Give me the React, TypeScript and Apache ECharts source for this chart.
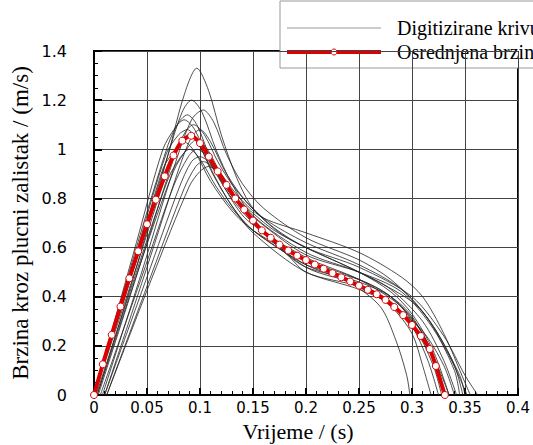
import React, { useEffect, useRef } from "react";
import * as echarts from "echarts";

// Averaged curve (red, with markers)
const avgTime = [0, 0.0083, 0.0167, 0.025, 0.0333, 0.0417, 0.05, 0.0583, 0.0667, 0.075, 0.0833, 0.0917, 0.1, 0.1083, 0.1167, 0.125, 0.1333, 0.1417, 0.15, 0.1583, 0.1667, 0.175, 0.1833, 0.1917, 0.2, 0.2083, 0.2167, 0.225, 0.2333, 0.2417, 0.25, 0.2583, 0.2667, 0.275, 0.2833, 0.2917, 0.3, 0.3083, 0.3167, 0.3225, 0.331];
const avgSpeed = [0, 0.125, 0.245, 0.36, 0.475, 0.585, 0.695, 0.795, 0.89, 0.975, 1.035, 1.055, 1.025, 0.97, 0.91, 0.855, 0.8, 0.755, 0.71, 0.67, 0.64, 0.612, 0.588, 0.567, 0.549, 0.531, 0.514, 0.496, 0.479, 0.462, 0.445, 0.428, 0.41, 0.387, 0.358, 0.325, 0.285, 0.24, 0.187, 0.118, 0];

const curve1 = [[0.003, 0], [0.04, 0.52], [0.07, 0.98], [0.085, 1.22], [0.097, 1.33], [0.108, 1.24], [0.12, 1.06], [0.135, 0.88], [0.15, 0.76], [0.175, 0.66], [0.2, 0.6], [0.25, 0.5], [0.28, 0.42], [0.3, 0.33], [0.32, 0.18], [0.335, 0]];
const curve2 = [[0, 0], [0.04, 0.56], [0.07, 0.98], [0.083, 1.15], [0.092, 1.2], [0.102, 1.15], [0.115, 1.0], [0.13, 0.86], [0.15, 0.73], [0.2, 0.58], [0.25, 0.5], [0.28, 0.43], [0.31, 0.3], [0.33, 0.14], [0.342, 0]];
const curve3 = [[0.008, 0], [0.045, 0.5], [0.075, 0.92], [0.092, 1.12], [0.103, 1.16], [0.113, 1.11], [0.125, 0.98], [0.14, 0.86], [0.16, 0.76], [0.2, 0.64], [0.25, 0.55], [0.28, 0.47], [0.31, 0.34], [0.335, 0.16], [0.352, 0]];
const curve4 = [[0, 0], [0.04, 0.6], [0.07, 1.02], [0.08, 1.11], [0.088, 1.14], [0.097, 1.1], [0.11, 0.96], [0.125, 0.83], [0.145, 0.71], [0.2, 0.56], [0.25, 0.47], [0.29, 0.36], [0.31, 0.25], [0.325, 0.1], [0.33, 0]];
const curve5 = [[0, 0], [0.04, 0.62], [0.065, 1.0], [0.077, 1.09], [0.085, 1.12], [0.095, 1.08], [0.11, 0.94], [0.13, 0.8], [0.15, 0.7], [0.2, 0.52], [0.25, 0.45], [0.28, 0.38], [0.3, 0.28], [0.315, 0.14], [0.325, 0]];
const curve6 = [[0.004, 0], [0.045, 0.55], [0.075, 0.96], [0.086, 1.07], [0.094, 1.1], [0.104, 1.06], [0.118, 0.94], [0.135, 0.83], [0.16, 0.72], [0.2, 0.62], [0.25, 0.53], [0.29, 0.43], [0.32, 0.28], [0.34, 0.12], [0.348, 0]];
const curve7 = [[0.01, 0], [0.05, 0.52], [0.08, 0.92], [0.092, 1.05], [0.1, 1.08], [0.11, 1.03], [0.125, 0.9], [0.145, 0.78], [0.17, 0.68], [0.2, 0.6], [0.25, 0.52], [0.3, 0.4], [0.33, 0.24], [0.35, 0.08], [0.362, 0]];
const curve8 = [[0, 0], [0.04, 0.52], [0.07, 0.92], [0.082, 1.03], [0.09, 1.06], [0.1, 1.01], [0.115, 0.88], [0.13, 0.77], [0.15, 0.66], [0.2, 0.5], [0.25, 0.44], [0.28, 0.36], [0.3, 0.25], [0.31, 0.12], [0.318, 0]];
const curve9 = [[0, 0], [0.04, 0.55], [0.065, 0.92], [0.077, 1.0], [0.085, 1.03], [0.095, 0.99], [0.11, 0.87], [0.13, 0.75], [0.15, 0.67], [0.2, 0.55], [0.25, 0.47], [0.28, 0.4], [0.3, 0.3], [0.32, 0.12], [0.328, 0]];
const curve10 = [[0.006, 0], [0.045, 0.48], [0.075, 0.85], [0.089, 0.97], [0.097, 1.0], [0.107, 0.97], [0.12, 0.88], [0.14, 0.77], [0.16, 0.69], [0.2, 0.57], [0.25, 0.5], [0.29, 0.42], [0.32, 0.27], [0.34, 0.1], [0.345, 0]];
const curve11 = [[0.01, 0], [0.05, 0.48], [0.08, 0.84], [0.092, 0.95], [0.1, 0.97], [0.11, 0.94], [0.125, 0.84], [0.145, 0.73], [0.17, 0.62], [0.2, 0.53], [0.25, 0.47], [0.28, 0.4], [0.31, 0.25], [0.325, 0.1], [0.33, 0]];
const curve12 = [[0.012, 0], [0.055, 0.5], [0.085, 0.84], [0.096, 0.93], [0.103, 0.95], [0.113, 0.92], [0.13, 0.82], [0.15, 0.74], [0.17, 0.67], [0.2, 0.6], [0.25, 0.5], [0.3, 0.38], [0.32, 0.28], [0.345, 0.08], [0.35, 0]];
const curve13 = [[0.012, 0], [0.055, 0.48], [0.09, 0.85], [0.1, 0.91], [0.108, 0.93], [0.118, 0.9], [0.135, 0.8], [0.155, 0.69], [0.18, 0.58], [0.2, 0.52], [0.25, 0.46], [0.28, 0.4], [0.3, 0.32], [0.32, 0.16], [0.335, 0]];
const curve14 = [[0.003, 0], [0.045, 0.55], [0.075, 0.91], [0.089, 1.01], [0.097, 1.04], [0.107, 1.0], [0.12, 0.9], [0.14, 0.79], [0.16, 0.72], [0.2, 0.66], [0.25, 0.58], [0.29, 0.48], [0.31, 0.4], [0.33, 0.25], [0.35, 0.05], [0.355, 0]];
const curve15 = [[0, 0], [0.04, 0.58], [0.068, 0.98], [0.08, 1.06], [0.088, 1.08], [0.098, 1.03], [0.112, 0.9], [0.13, 0.77], [0.15, 0.67], [0.2, 0.53], [0.24, 0.46], [0.27, 0.36], [0.285, 0.22], [0.295, 0.08], [0.298, 0]];
const curve16 = [[0.002, 0], [0.04, 0.5], [0.07, 0.88], [0.082, 0.97], [0.09, 1.0], [0.1, 0.96], [0.115, 0.85], [0.13, 0.76], [0.15, 0.67], [0.18, 0.58], [0.2, 0.5], [0.25, 0.43], [0.28, 0.37], [0.31, 0.26], [0.33, 0.12], [0.34, 0]];

const digitizedCurves = [curve1, curve2, curve3, curve4, curve5, curve6, curve7, curve8, curve9, curve10, curve11, curve12, curve13, curve14, curve15, curve16];

const legendNames = ["Digitizirane krivulje", "Osrednjena brzina"];
const xAxisName = "Vrijeme / (s)";
const yAxisName = "Brzina kroz plucni zalistak / (m/s)";

const SERIF = '"Liberation Serif", "Times New Roman", serif';
const SANS = "DejaVu Sans";
const RED = "#dd0000";

export default function App() {
  const ref = useRef<HTMLDivElement>(null);
  useEffect(() => {
    if (!ref.current) return;
    const chart = echarts.init(ref.current, null, { renderer: "svg" });
    const thinSeries = digitizedCurves.map((c) => ({
      name: legendNames[0],
      type: "line",
      data: c,
      smooth: 0.3,
      symbol: "none",
      lineStyle: { color: "#222", width: 0.8 },
      z: 2,
    }));
    const avgData = avgTime.map((t, i) => [t, avgSpeed[i]]);
    chart.setOption({
      animation: false,
      backgroundColor: "#fff",
      grid: {
        left: 94,
        right: 15,
        top: 51,
        bottom: 50,
        show: true,
        borderColor: "#000",
        borderWidth: 2,
        containLabel: false,
      },
      graphic: [
        {
          type: "text",
          x: 298,
          y: 431,
          style: { text: xAxisName, font: `22px ${SERIF}`, fill: "#000", align: "center", verticalAlign: "middle" },
        },
        {
          type: "text",
          x: 20,
          y: 223,
          rotation: Math.PI / 2,
          style: { text: yAxisName, font: `23px ${SERIF}`, fill: "#000", align: "center", verticalAlign: "middle" },
        },
        {
          type: "group",
          z: 100,
          children: [
            { type: "rect", shape: { x: 280, y: 1, width: 270, height: 67 }, style: { fill: "#fff", stroke: "#999", lineWidth: 1 } },
            { type: "line", shape: { x1: 287, y1: 28, x2: 381, y2: 28 }, style: { stroke: "#999", lineWidth: 1 } },
            { type: "text", x: 397, y: 28, style: { text: legendNames[0], font: `20px ${SERIF}`, fill: "#000", verticalAlign: "middle", align: "left" } },
            { type: "line", shape: { x1: 287, y1: 52, x2: 381, y2: 52 }, style: { stroke: RED, lineWidth: 4 } },
            { type: "circle", shape: { cx: 334, cy: 52, r: 3 }, style: { fill: "#fff", stroke: RED, lineWidth: 1 } },
            { type: "text", x: 397, y: 52, style: { text: legendNames[1], font: `20px ${SERIF}`, fill: "#000", verticalAlign: "middle", align: "left" } },
          ],
        },
      ],
      xAxis: {
        type: "value",
        min: 0,
        max: 0.4,
        interval: 0.05,
        axisLine: { show: true, lineStyle: { color: "#000", width: 2 } },
        axisTick: { show: true, inside: true, length: 7, lineStyle: { color: "#000", width: 2 } },
        minorTick: { show: true, splitNumber: 5, length: 4, lineStyle: { color: "#000", width: 1 } },
        axisLabel: { fontFamily: SANS, fontSize: 15, color: "#000", margin: 5, lineHeight: 16 },
        splitLine: { show: true, lineStyle: { color: "#444", width: 1 } },
      },
      yAxis: {
        type: "value",
        min: 0,
        max: 1.4,
        interval: 0.2,
        axisLine: { show: true, lineStyle: { color: "#000", width: 2 } },
        axisTick: { show: true, inside: true, length: 8, lineStyle: { color: "#000", width: 2 } },
        minorTick: { show: true, splitNumber: 4, length: 4, lineStyle: { color: "#000", width: 1 } },
        axisLabel: { fontFamily: SANS, fontSize: 16, color: "#000", margin: 27 },
        splitLine: { show: true, lineStyle: { color: "#444", width: 1 } },
      },
      series: [
        ...thinSeries,
        {
          name: legendNames[1],
          type: "line",
          data: avgData,
          smooth: 0.3,
          symbol: "circle",
          symbolSize: 7,
          showAllSymbol: true,
          itemStyle: { color: "#fff", borderColor: RED, borderWidth: 1 },
          lineStyle: { color: RED, width: 4 },
          z: 5,
        },
      ],
    });
    return () => chart.dispose();
  }, []);
  return <div ref={ref} style={{ position: "absolute", left: 0, top: 0, width: 533, height: 445 }} />;
}
